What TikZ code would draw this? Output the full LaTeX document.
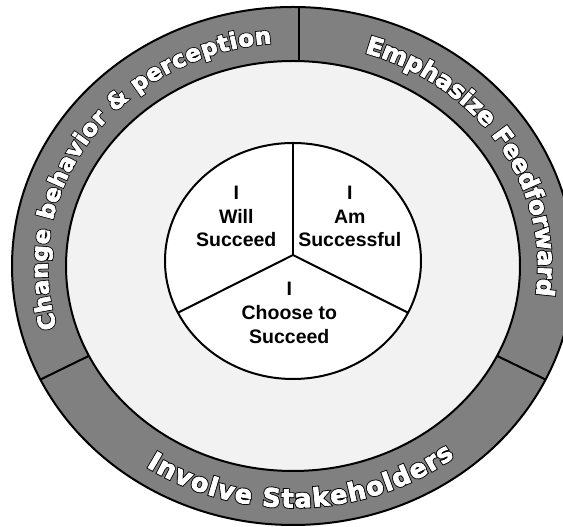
\documentclass[tikz,border=0pt]{standalone}
\usepackage{fontspec}
\usetikzlibrary{decorations.text,calc}
\newfontfamily\pieface{Liberation Sans Bold}
\newfontfamily\ringface{DejaVu Sans Bold}[FakeBold=3]
\newfontfamily\ringedge{DejaVu Sans Bold}[FakeBold=10]
\definecolor{ringgray}{HTML}{808080}
\definecolor{fieldgray}{HTML}{F2F2F2}

% Outlined white lettering along a ring path:
% #1 font size, #2 raise, #3 path, #4 text
\newcommand\ringlabel[4]{%
  \path[decorate,
    decoration={text along path, text color=black, text align=fit to path, raise=#2,
      text={|\ringedge\fontsize{#1}{#1}\selectfont|#4}}] #3;
  \path[decorate,
    decoration={text along path, text color=white, text align=fit to path, raise=#2,
      text={|\ringface\fontsize{#1}{#1}\selectfont|#4}}] #3;
}

\begin{document}
\begin{tikzpicture}[x=1pt,y=1pt,
  rimline/.style={line width=2pt, line join=round},
  pietext/.style={font=\pieface\fontsize{19.5}{20}\selectfont, anchor=base, inner sep=0pt}]
\useasboundingbox (0,0) rectangle (563,527);
\clip (0,0) rectangle (563,527);

\coordinate (C) at (293,261);
\coordinate (W) at (293,266);

% outer ring and inner field
\filldraw[fill=ringgray, rimline] (C) ellipse [x radius=281, y radius=259];
\filldraw[fill=fieldgray, rimline] (C) ellipse [x radius=227, y radius=205];

% ring dividers
\coordinate (topout) at (299,521);
\coordinate (topin) at (299,465.5);
\coordinate (lout) at ($(C)+(206:281 and 259)$);
\coordinate (lin) at ($(C)+(206:227 and 205)$);
\coordinate (rout) at ($(C)+(334:281 and 259)$);
\coordinate (rin) at ($(C)+(334:227 and 205)$);
\draw[rimline] (topout) -- (topin);
\draw[rimline] (lout) -- (lin);
\draw[rimline] (rout) -- (rin);

% centre pie
\filldraw[fill=white, rimline] (W) ellipse [x radius=128, y radius=118];
\coordinate (hub) at (293,272);
\coordinate (ptop) at (293,384);
\coordinate (pleft) at ($(W)+(206:128 and 118)$);
\coordinate (pright) at ($(W)+(334:128 and 118)$);
\draw[rimline] (hub) -- (ptop);
\draw[rimline] (hub) -- (pleft);
\draw[rimline] (hub) -- (pright);

% pie labels
\node[pietext] (will1) at (236.3,327.7) {I};
\node[pietext] (will2) at (236.3,303.7) {Will};
\node[pietext] (will3) at (236.3,280.3) {Succeed};
\node[pietext] (am1) at (349.8,327.7) {I};
\node[pietext] (am2) at (349.8,303.7) {Am};
\node[pietext] (am3) at (349.8,280.3) {Successful};
\node[pietext] (ch1) at (289.3,231.3) {I};
\node[pietext] (ch2) at (289.3,207) {Choose to};
\node[pietext] (ch3) at (289.3,183.7) {Succeed};

% ring labels
\ringlabel{23}{-8.5pt}{($(C)+(196:254 and 232)$) arc[start angle=196, end angle=95, x radius=254, y radius=232]}{Change behavior {\&} perception}
\ringlabel{24.5}{-9pt}{($(C)+(73:254 and 232)$) arc[start angle=73, end angle=-7.5, x radius=254, y radius=232]}{Emphasize Feedforward}
\ringlabel{25.5}{-9.5pt}{($(C)+(236:254 and 232)$) arc[start angle=236, end angle=308, x radius=254, y radius=232]}{Involve Stakeholders}
\end{tikzpicture}
\end{document}
